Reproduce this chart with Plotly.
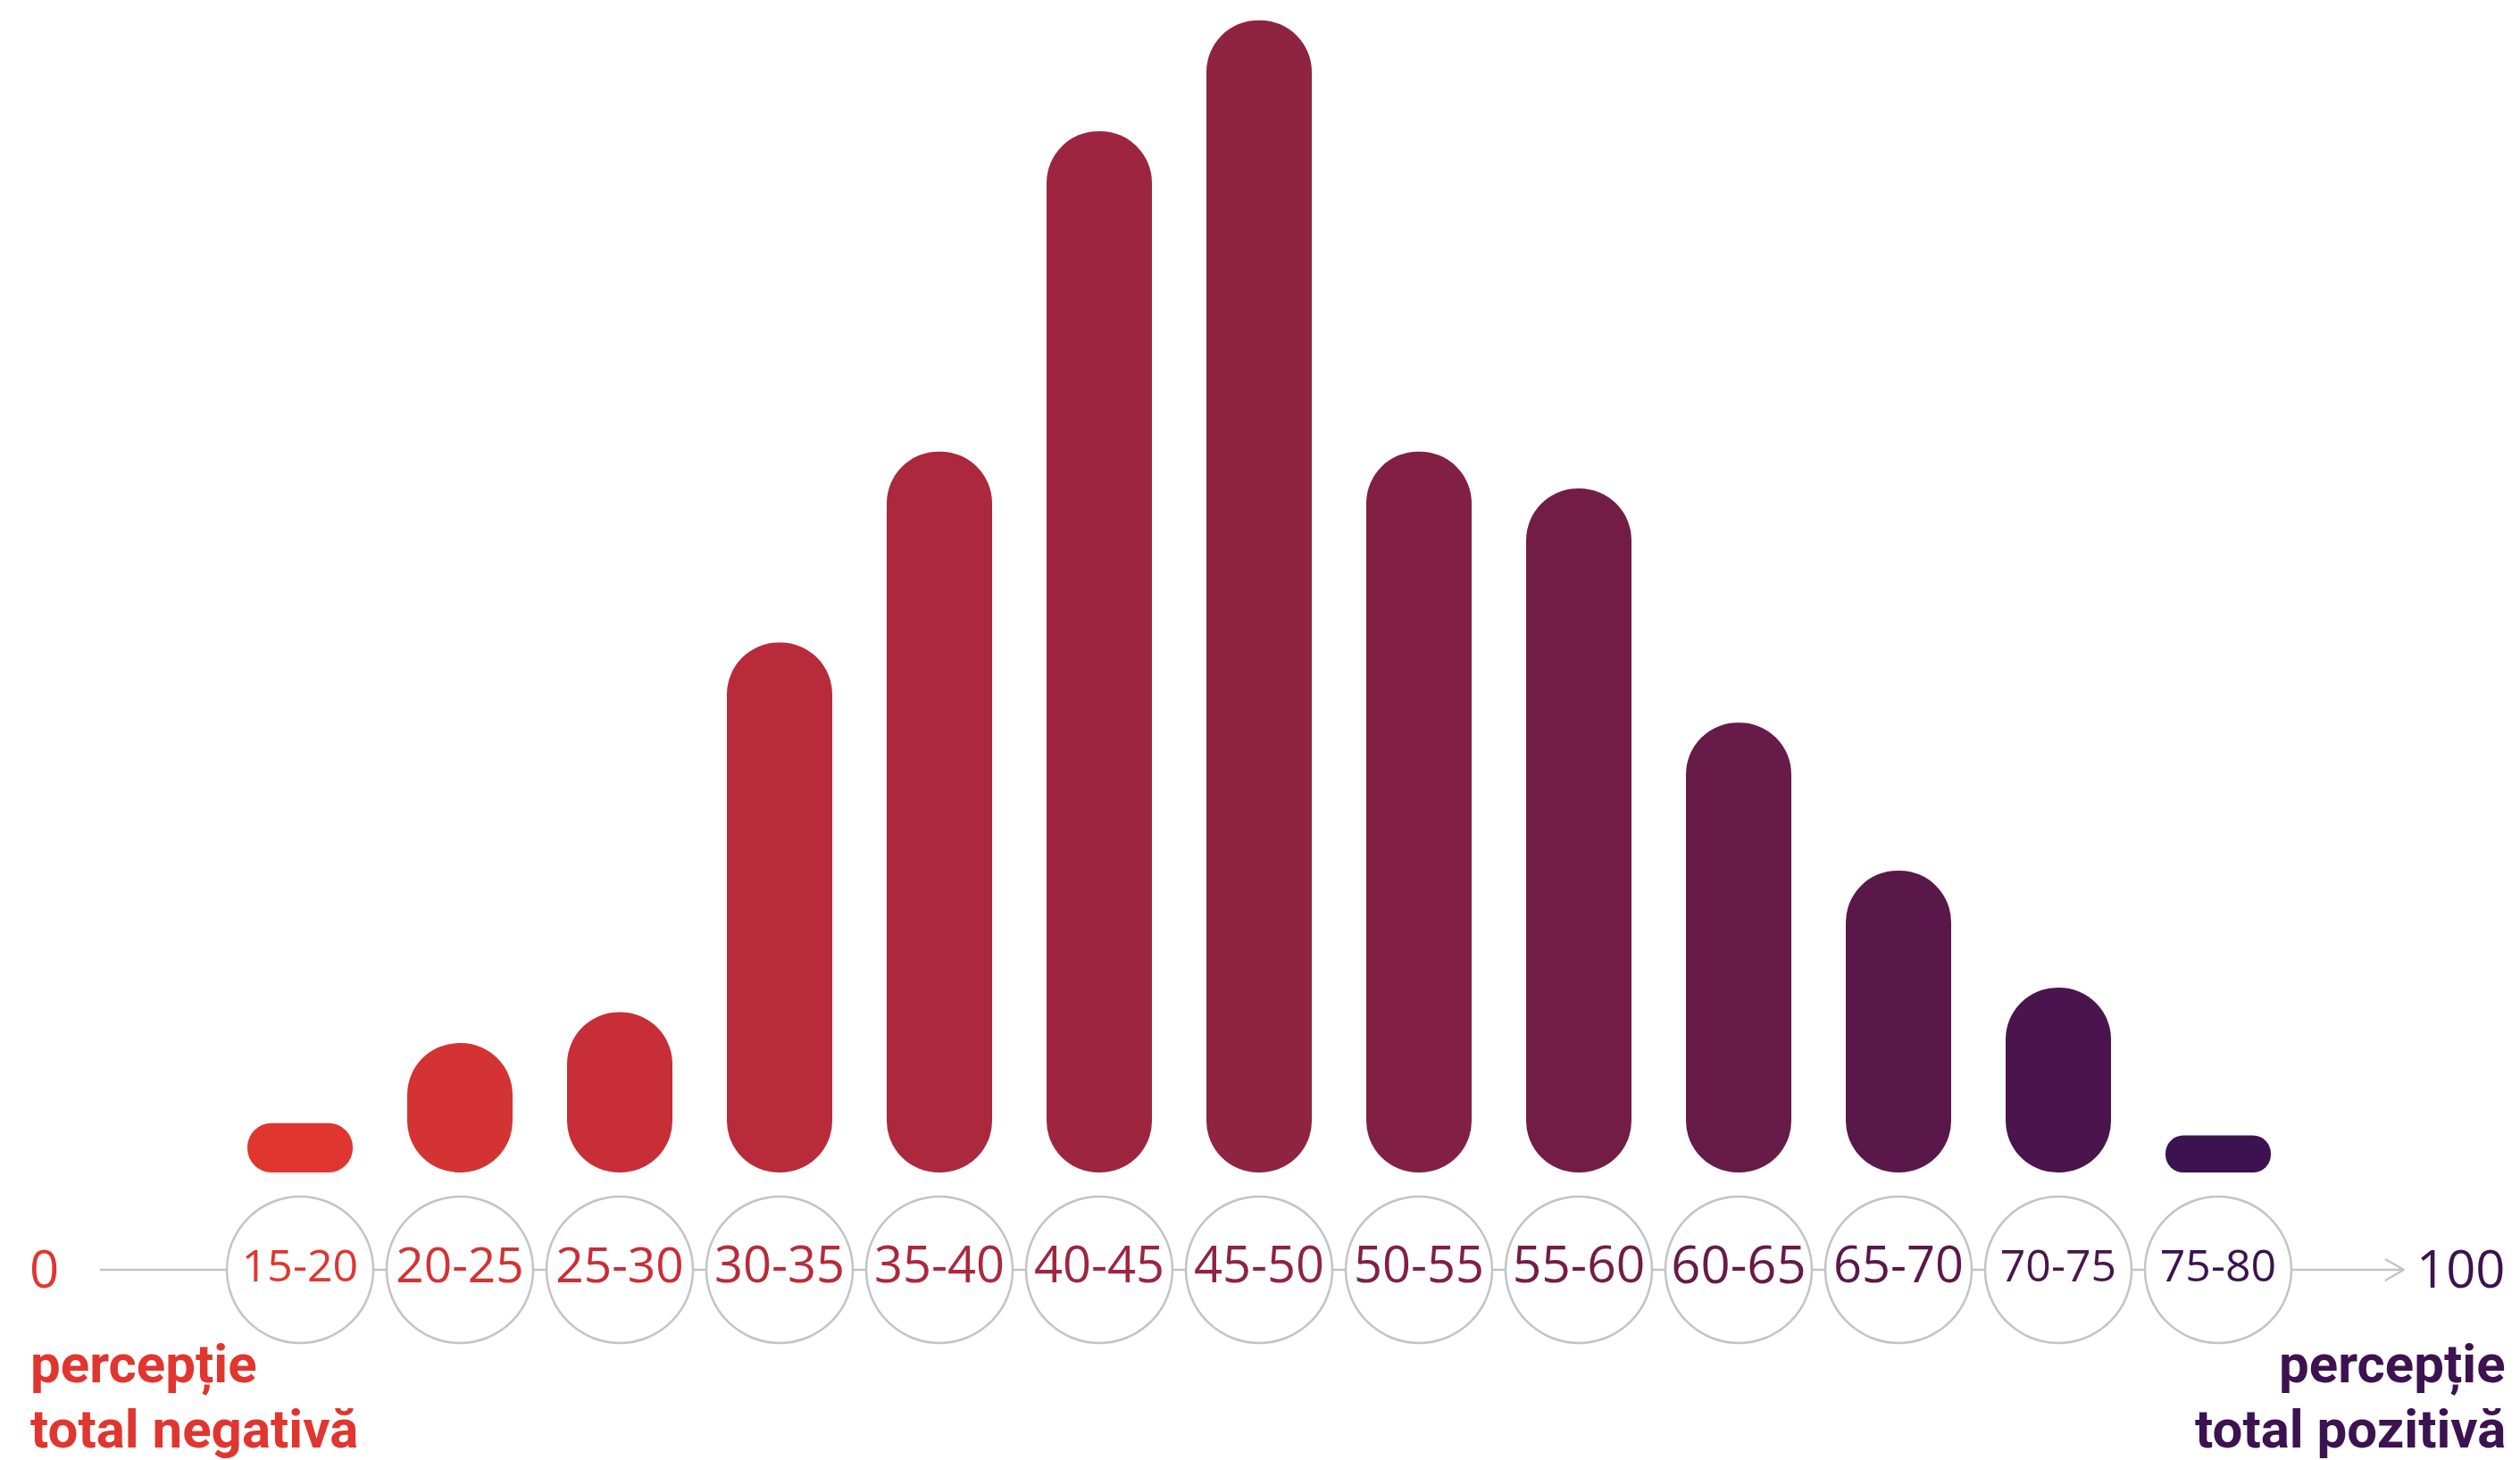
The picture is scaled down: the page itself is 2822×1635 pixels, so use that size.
"""
Perception distribution chart: rounded (pill) bars over a 0-100 scale track.
"""

import plotly.graph_objects as go

# --- data -------------------------------------------------------------------
categories = ['15-20', '20-25', '25-30', '30-35', '35-40', '40-45', '45-50',
              '50-55', '55-60', '60-65', '65-70', '70-75', '75-80']
shares = [0.8, 2.1, 2.6, 8.6, 11.7, 16.9, 18.7, 11.7, 11.1, 7.3, 4.9, 3.0, 0.6]
bar_colors = ['#E1352F', '#D43333', '#C82E37', '#B92B3A', '#AB283D', '#9E2540', '#8F2342',
              '#822043', '#731D46', '#661B48', '#5A184A', '#4A154C', '#3D1250']
scale_start_label = '0'
scale_end_label = '100'
left_caption = ['percepție', 'total negativă']
right_caption = ['percepție', 'total pozitivă']

# --- layout constants (pixels) ----------------------------------------------
W, H = 2822, 1635
STEP_PX = 179        # distance between category centres
FIRST_PX = 336       # centre of first category
BASE_PX = 1313       # bar baseline from top
PX_PER_UNIT = 69.0   # vertical scale
BAR_PX = 118
TRACK_PX = 1422
CIRCLE_PX = 164
label_sizes = [50, 55, 55, 56, 56, 56, 56, 56, 57, 58, 56, 50, 50]

x_range = [-FIRST_PX / STEP_PX, (W - FIRST_PX) / STEP_PX]
y_range = [-(H - BASE_PX) / PX_PER_UNIT, BASE_PX / PX_PER_UNIT]
track_y = -(TRACK_PX - BASE_PX) / PX_PER_UNIT
bar_w = BAR_PX / STEP_PX
line_start = (112 - FIRST_PX) / STEP_PX
line_tip = (2692 - FIRST_PX) / STEP_PX

GREY = '#C4C4C4'
FONT = 'Open Sans'
CAPTION_FONT = 'Roboto'

fig = go.Figure()

# scale track with arrow head
fig.add_trace(go.Scatter(
    x=[line_start, line_tip], y=[track_y, track_y], mode='lines',
    line=dict(color=GREY, width=2.5), hoverinfo='skip'))
fig.add_trace(go.Scatter(
    x=[line_tip - 21 / STEP_PX, line_tip, line_tip - 21 / STEP_PX],
    y=[track_y + 12 / PX_PER_UNIT, track_y, track_y - 12 / PX_PER_UNIT],
    mode='lines', line=dict(color=GREY, width=2.5), hoverinfo='skip'))

# pill bars: floating bars (explicit base) get both ends rounded
for i, (cat, val, col) in enumerate(zip(categories, shares, bar_colors)):
    radius = min(BAR_PX, val * PX_PER_UNIT) / 2 - 0.5
    fig.add_trace(go.Bar(
        x=[i], y=[val], base=[0], width=bar_w,
        marker=dict(color=col, cornerradius=radius, line=dict(width=0)),
        name=cat, hovertemplate=f'{cat}: {val}<extra></extra>'))

# category circles
fig.add_trace(go.Scatter(
    x=list(range(len(categories))), y=[track_y] * len(categories),
    mode='markers+text', text=categories, textposition='middle center',
    textfont=dict(family=FONT, size=label_sizes, color=bar_colors),
    marker=dict(size=CIRCLE_PX, color='white', line=dict(color=GREY, width=2.5)),
    hoverinfo='skip'))

annotations = [
    dict(text=scale_start_label, x=49 / W, y=1 - 1419 / H, xanchor='center', yanchor='middle',
         font=dict(family=FONT, size=58, color=bar_colors[0])),
    dict(text=scale_end_label, x=2808 / W, y=1 - 1419 / H, xanchor='right', yanchor='middle',
         font=dict(family=FONT, size=58, color=bar_colors[-1])),
]
for line, ypx in zip(left_caption, (1527, 1600)):
    annotations.append(dict(text=f'<b>{line}</b>', x=32 / W, y=1 - ypx / H,
                            xanchor='left', yanchor='middle',
                            font=dict(family=CAPTION_FONT, size=60, color=bar_colors[0])))
for line, ypx in zip(right_caption, (1527, 1600)):
    annotations.append(dict(text=f'<b>{line}</b>', x=2808 / W, y=1 - ypx / H,
                            xanchor='right', yanchor='middle',
                            font=dict(family=CAPTION_FONT, size=60, color=bar_colors[-1])))
for a in annotations:
    a.update(xref='paper', yref='paper', showarrow=False)

fig.update_layout(
    width=W, height=H,
    margin=dict(l=0, r=0, t=0, b=0),
    barmode='overlay',
    showlegend=False,
    paper_bgcolor='white',
    plot_bgcolor='white',
    xaxis=dict(visible=False, range=x_range, fixedrange=True),
    yaxis=dict(visible=False, range=y_range, fixedrange=True),
    annotations=annotations,
)

fig.write_html('out.html', config={'displayModeBar': False},
               post_script="document.body.style.margin = '0';")
